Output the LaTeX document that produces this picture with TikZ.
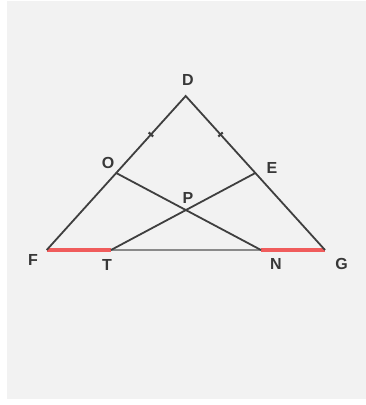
\documentclass[tikz,border=0pt]{standalone}
\usepackage{fontspec}
\setmainfont{Liberation Sans}
\usetikzlibrary{calc}
\definecolor{bg}{HTML}{F2F2F2}
\definecolor{ln}{HTML}{3F3F3F}
\definecolor{rd}{HTML}{F05C5C}
\definecolor{gr}{HTML}{8A8A8A}
\begin{document}
\begin{tikzpicture}[x=1pt,y=-1pt,
  seg/.style={draw=ln,line width=1.8pt},
  redseg/.style={draw=rd,line width=3.4pt},
  grayseg/.style={draw=gr,line width=2.6pt},
  lbl/.style={font=\fontsize{16}{16}\selectfont\bfseries,text=black!78,inner sep=0pt},
  tick/.style={draw=ln,line width=2.2pt}]
\useasboundingbox (0,0) rectangle (366,405);
\fill[bg] (7,1) rectangle (366,399);
\coordinate (D) at (185.7,96);
\coordinate (F) at (46.7,250);
\coordinate (G) at (325,250);
\coordinate (O) at ($(D)!0.5!(F)$);
\coordinate (E) at ($(D)!0.5!(G)$);
\coordinate (T) at (111,250);
\coordinate (N) at (261,250);
\coordinate (P) at (intersection of O--N and E--T);
\coordinate (M1) at ($(D)!0.5!(O)$);
\coordinate (M2) at ($(D)!0.5!(E)$);
\path[grayseg] (T) -- (N);
\path[redseg] (F) -- (T);
\path[redseg] (N) -- (G);
\path[seg] (F) -- (D) -- (G);
\path[seg] (O) -- (N);
\path[seg] (E) -- (T);
\path[tick] ($(M1)!3pt!90:(D)$) -- ($(M1)!3pt!-90:(D)$);
\path[tick] ($(M2)!3pt!90:(D)$) -- ($(M2)!3pt!-90:(D)$);
\node[lbl] (lD) at (188,80) {D};
\node[lbl] (lO) at (108,163) {O};
\node[lbl] (lE) at (272,168) {E};
\node[lbl] (lP) at (188,198) {P};
\node[lbl] (lF) at (33,260) {F};
\node[lbl] (lT) at (107,265) {T};
\node[lbl] (lN) at (276,263.5) {N};
\node[lbl] (lG) at (341.5,263.5) {G};
\end{tikzpicture}
\end{document}
